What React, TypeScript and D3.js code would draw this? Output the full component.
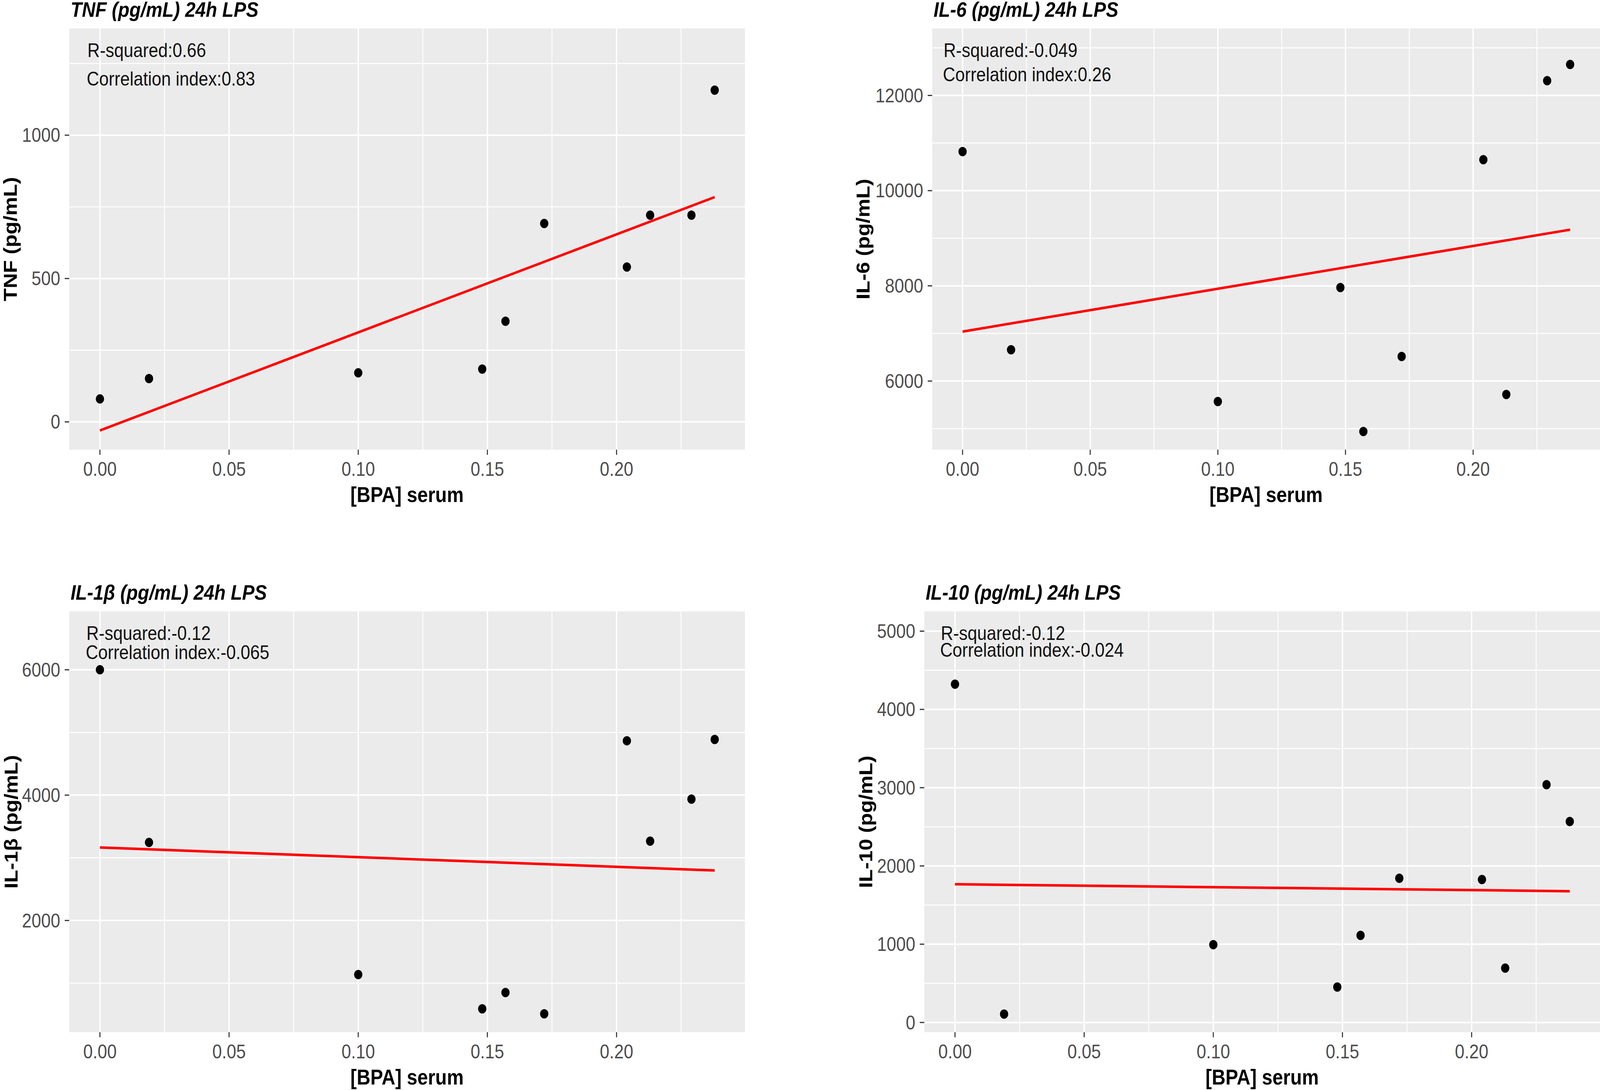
import * as d3 from "d3";
import { useEffect, useRef } from "react";

const WIDTH = 4648;
const HEIGHT = 2790;

// Serum BPA concentration shared by every panel.
const BPA = [0, 0.019, 0.1, 0.148, 0.157, 0.172, 0.204, 0.213, 0.229, 0.238];

const TNF = [80, 151, 171, 184, 351, 692, 540, 721, 721, 1157];
const IL6 = [10820, 6657, 5569, 7965, 4940, 6516, 10650, 5717, 12311, 12650];
const IL1B = [6000, 3245, 1138, 590, 851, 511, 4867, 3266, 3936, 4888];
const IL10 = [4322, 107, 994, 452, 1113, 1843, 1826, 695, 3038, 2568];

// Fitted line values at the smallest and largest BPA value.
const TNF_FIT = [-30, 784];
const IL6_FIT = [7039, 9180];
const IL1B_FIT = [3165, 2798];
const IL10_FIT = [1766, 1677];

const TITLES = [
  "TNF (pg/mL) 24h LPS",
  "IL-6 (pg/mL) 24h LPS",
  "IL-1β (pg/mL) 24h LPS",
  "IL-10 (pg/mL) 24h LPS",
];
const Y_LABELS = ["TNF (pg/mL)", "IL-6 (pg/mL)", "IL-1β (pg/mL)", "IL-10 (pg/mL)"];
const R_SQUARED = ["0.66", "-0.049", "-0.12", "-0.12"];
const CORRELATION = ["0.83", "0.26", "-0.065", "-0.024"];

const X_TICKS = [0, 0.05, 0.1, 0.15, 0.2];
const X_MINOR = [0.025, 0.075, 0.125, 0.175, 0.225];
const TNF_TICKS = [0, 500, 1000];
const IL6_TICKS = [6000, 8000, 10000, 12000];
const IL1B_TICKS = [2000, 4000, 6000];
const IL10_TICKS = [0, 1000, 2000, 3000, 4000, 5000];

const X_DOMAIN: [number, number] = [-0.0119, 0.2497];

interface Panel {
  values: number[];
  fit: number[];
  yTicks: number[];
  yDomain: [number, number];
  rect: { left: number; top: number; right: number; bottom: number };
  yTitleOffset: number;
  note: { dx: number; y1: number; y2: number };
}

const PANELS: Panel[] = [
  {
    values: TNF,
    fit: TNF_FIT,
    yTicks: TNF_TICKS,
    yDomain: [-97, 1372],
    rect: { left: 201, top: 73, right: 2164, bottom: 1151 },
    yTitleOffset: 171,
    note: { dx: 53, y1: 56, y2: 129 },
  },
  {
    values: IL6,
    fit: IL6_FIT,
    yTicks: IL6_TICKS,
    yDomain: [4558, 13406],
    rect: { left: 2708, top: 73, right: 4648, bottom: 1151 },
    yTitleOffset: 201,
    note: { dx: 33, y1: 56, y2: 118 },
  },
  {
    values: IL1B,
    fit: IL1B_FIT,
    yTicks: IL1B_TICKS,
    yDomain: [218, 6931],
    rect: { left: 201, top: 1565, right: 2164, bottom: 2642 },
    yTitleOffset: 169,
    note: { dx: 50, y1: 56, y2: 105 },
  },
  {
    values: IL10,
    fit: IL10_FIT,
    yTicks: IL10_TICKS,
    yDomain: [-124, 5252],
    rect: { left: 2685, top: 1565, right: 4648, bottom: 2642 },
    yTitleOffset: 170,
    note: { dx: 48, y1: 56, y2: 99 },
  },
];

const FONT = "'Liberation Sans', Arial, sans-serif";

type G = d3.Selection<SVGGElement, unknown, null, undefined>;

function drawPanel(root: G, p: Panel, i: number) {
  const { left, top, right, bottom } = p.rect;
  const x = d3.scaleLinear().domain(X_DOMAIN).range([left, right]);
  const y = d3.scaleLinear().domain(p.yDomain).range([bottom, top]);
  const g = root.append("g");

  g.append("rect")
    .attr("x", left)
    .attr("y", top)
    .attr("width", right - left)
    .attr("height", bottom - top)
    .attr("fill", "#EBEBEB");

  // minor grid sits halfway between major ticks
  const step = p.yTicks[1] - p.yTicks[0];
  const yMinor = [p.yTicks[0] - step / 2, ...p.yTicks.map((t) => t + step / 2)].filter(
    (v) => v > p.yDomain[0] && v < p.yDomain[1],
  );

  const grid = g.append("g").attr("stroke", "#FFFFFF");
  grid
    .selectAll("line.ymin")
    .data(yMinor)
    .join("line")
    .attr("x1", left)
    .attr("x2", right)
    .attr("y1", (d) => y(d))
    .attr("y2", (d) => y(d))
    .attr("stroke-width", 2.6);
  grid
    .selectAll("line.xmin")
    .data(X_MINOR)
    .join("line")
    .attr("y1", top)
    .attr("y2", bottom)
    .attr("x1", (d) => x(d))
    .attr("x2", (d) => x(d))
    .attr("stroke-width", 2.6);
  grid
    .selectAll("line.ymaj")
    .data(p.yTicks)
    .join("line")
    .attr("x1", left)
    .attr("x2", right)
    .attr("y1", (d) => y(d))
    .attr("y2", (d) => y(d))
    .attr("stroke-width", 4);
  grid
    .selectAll("line.xmaj")
    .data(X_TICKS)
    .join("line")
    .attr("y1", top)
    .attr("y2", bottom)
    .attr("x1", (d) => x(d))
    .attr("x2", (d) => x(d))
    .attr("stroke-width", 4);

  // axis ticks and labels
  const axis = g.append("g").attr("font-family", FONT).attr("font-size", 50).attr("fill", "#4D4D4D");
  axis
    .selectAll("line.yt")
    .data(p.yTicks)
    .join("line")
    .attr("x1", left - 13)
    .attr("x2", left)
    .attr("y1", (d) => y(d))
    .attr("y2", (d) => y(d))
    .attr("stroke", "#333333")
    .attr("stroke-width", 3);
  axis
    .selectAll("text.yt")
    .data(p.yTicks)
    .join("text")
    .attr("x", left - 26)
    .attr("y", (d) => y(d))
    .attr("dy", "0.35em")
    .attr("text-anchor", "end")
    .text((d) => String(d));
  axis
    .selectAll("line.xt")
    .data(X_TICKS)
    .join("line")
    .attr("x1", (d) => x(d))
    .attr("x2", (d) => x(d))
    .attr("y1", bottom)
    .attr("y2", bottom + 13)
    .attr("stroke", "#333333")
    .attr("stroke-width", 3);
  axis
    .selectAll("text.xt")
    .data(X_TICKS)
    .join("text")
    .attr("x", (d) => x(d))
    .attr("y", bottom + 50)
    .attr("dy", "0.35em")
    .attr("text-anchor", "middle")
    .text((d) => d.toFixed(2));

  // fitted line
  const [x0, x1] = d3.extent(BPA) as [number, number];
  g.append("line")
    .attr("x1", x(x0))
    .attr("y1", y(p.fit[0]))
    .attr("x2", x(x1))
    .attr("y2", y(p.fit[1]))
    .attr("stroke", "#FF0000")
    .attr("stroke-width", 6.5);

  g.append("g")
    .selectAll("circle")
    .data(BPA)
    .join("circle")
    .attr("cx", (d) => x(d))
    .attr("cy", (_, k) => y(p.values[k]))
    .attr("r", 12)
    .attr("fill", "#000000");

  // stats annotation
  const note = g.append("g").attr("font-family", FONT).attr("font-size", 50).attr("fill", "#111111");
  note
    .append("text")
    .attr("x", left + p.note.dx)
    .attr("y", top + p.note.y1)
    .attr("dy", "0.35em")
    .text(`R-squared:${R_SQUARED[i]}`);
  note
    .append("text")
    .attr("x", left + p.note.dx - 2)
    .attr("y", top + p.note.y2)
    .attr("dy", "0.35em")
    .text(`Correlation index:${CORRELATION[i]}`);

  // titles
  g.append("text")
    .attr("x", left + 4)
    .attr("y", top - 30)
    .attr("font-family", FONT)
    .attr("font-size", 54)
    .attr("font-weight", "bold")
    .attr("font-style", "italic")
    .text(TITLES[i]);
  g.append("text")
    .attr("x", (left + right) / 2)
    .attr("y", bottom + 115)
    .attr("dy", "0.35em")
    .attr("text-anchor", "middle")
    .attr("font-family", FONT)
    .attr("font-size", 55)
    .attr("font-weight", "bold")
    .text("[BPA] serum");
  g.append("text")
    .attr("transform", `translate(${left - p.yTitleOffset},${(top + bottom) / 2}) rotate(-90)`)
    .attr("dy", "0.35em")
    .attr("text-anchor", "middle")
    .attr("font-family", FONT)
    .attr("font-size", 54)
    .attr("font-weight", "bold")
    .text(Y_LABELS[i]);
}

export default function App() {
  const svgRef = useRef<SVGSVGElement>(null);

  useEffect(() => {
    document.body.style.margin = "0";
    document.body.style.overflow = "hidden";
    const svg = d3.select(svgRef.current);
    svg.selectAll("*").remove();
    const root = svg.append("g") as unknown as G;
    PANELS.forEach((p, i) => drawPanel(root, p, i));
  }, []);

  // Fill the whole viewport so the figure keeps the reference's proportions.
  return (
    <svg
      ref={svgRef}
      viewBox={`0 0 ${WIDTH} ${HEIGHT}`}
      preserveAspectRatio="none"
      style={{ display: "block", width: "100vw", height: "100vh", background: "#FFFFFF" }}
    />
  );
}
